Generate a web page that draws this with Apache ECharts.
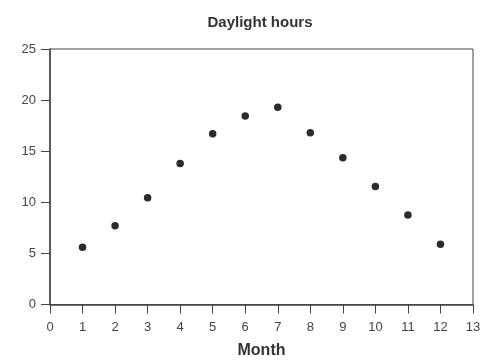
<!DOCTYPE html>
<html><head><meta charset="utf-8">
<script src="https://cdn.jsdelivr.net/npm/echarts@6/dist/echarts.min.js"></script>
<style>html,body{margin:0;padding:0;background:#fff}#c{width:500px;height:364px}</style>
</head><body><div id="c"></div>
<script>
const months = [1,2,3,4,5,6,7,8,9,10,11,12];
const hours = [5.6,7.7,10.45,13.8,16.7,18.45,19.3,16.8,14.35,11.55,8.75,5.9];
const xTicks = [0,1,2,3,4,5,6,7,8,9,10,11,12,13];
const yTicks = [0,5,10,15,20,25];
const chart = echarts.init(document.getElementById('c'), null, {renderer:'canvas'});
const font = 'Liberation Sans, Arial, sans-serif';
chart.setOption({
  animation:false,
  title:{text:'Daylight hours', left:255, textAlign:'center', top:10,
    textStyle:{fontFamily:font, fontSize:15, fontWeight:'bold', color:'#333'}},
  grid:{left:50, right:27, top:49, bottom:59.5, show:true, borderColor:'#444', borderWidth:1, backgroundColor:'transparent'},
  xAxis:{type:'value', min:xTicks[0], max:xTicks[xTicks.length-1], interval:1,
    name:'Month', nameLocation:'middle', nameGap:38,
    nameTextStyle:{fontFamily:font, fontSize:16, fontWeight:'bold', color:'#333'},
    axisLine:{lineStyle:{color:'#444', width:1.5}},
    axisTick:{length:9, lineStyle:{color:'#444'}},
    axisLabel:{fontFamily:font, fontSize:13, color:'#444', margin:16},
    splitLine:{show:false}},
  yAxis:{type:'value', min:yTicks[0], max:yTicks[yTicks.length-1], interval:5,
    axisLine:{show:true, lineStyle:{color:'#444', width:1.5}},
    axisTick:{show:true, length:9, lineStyle:{color:'#444'}},
    axisLabel:{fontFamily:font, fontSize:13, color:'#444', margin:14},
    splitLine:{show:false}},
  series:[{type:'scatter', symbolSize:7.5, itemStyle:{color:'#2b2b2b', opacity:1},
    data: months.map((m,i)=>[m, hours[i]])}]
});
</script></body></html>
